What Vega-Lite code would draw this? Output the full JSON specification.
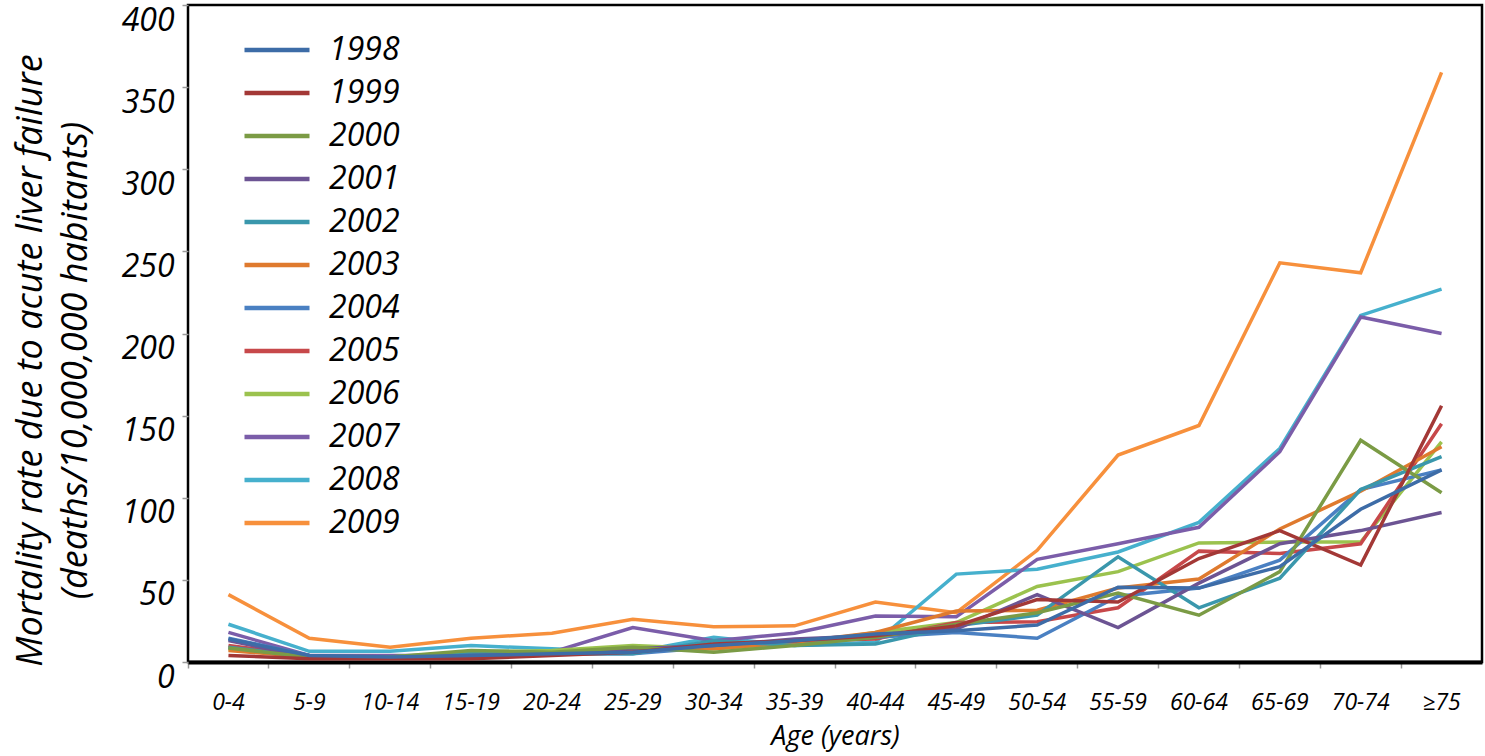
{
  "$schema": "https://vega.github.io/schema/vega-lite/v6.json",
  "autosize": "none",
  "padding": {"left": 188, "top": 5, "right": 3, "bottom": 94},
  "width": 1294,
  "height": 657,
  "background": "white",
  "config": {
    "font": "Open Sans",
    "view": {"stroke": "#000", "strokeWidth": 2.5}
  },
  "data": {"values": [
    {"year":"2009","age":"0-4","rate":41},{"year":"2009","age":"5-9","rate":14.5},{"year":"2009","age":"10-14","rate":9},{"year":"2009","age":"15-19","rate":14.5},{"year":"2009","age":"20-24","rate":17.5},{"year":"2009","age":"25-29","rate":26},{"year":"2009","age":"30-34","rate":21.5},{"year":"2009","age":"35-39","rate":22},{"year":"2009","age":"40-44","rate":36.5},{"year":"2009","age":"45-49","rate":30},{"year":"2009","age":"50-54","rate":68},{"year":"2009","age":"55-59","rate":126},{"year":"2009","age":"60-64","rate":144},{"year":"2009","age":"65-69","rate":243},{"year":"2009","age":"70-74","rate":237},{"year":"2009","age":"≥75","rate":359},
    {"year":"2008","age":"0-4","rate":23},{"year":"2008","age":"5-9","rate":6.5},{"year":"2008","age":"10-14","rate":6.5},{"year":"2008","age":"15-19","rate":10},{"year":"2008","age":"20-24","rate":8},{"year":"2008","age":"25-29","rate":6},{"year":"2008","age":"30-34","rate":15},{"year":"2008","age":"35-39","rate":10},{"year":"2008","age":"40-44","rate":12},{"year":"2008","age":"45-49","rate":53.5},{"year":"2008","age":"50-54","rate":56.5},{"year":"2008","age":"55-59","rate":67},{"year":"2008","age":"60-64","rate":85},{"year":"2008","age":"65-69","rate":130},{"year":"2008","age":"70-74","rate":211},{"year":"2008","age":"≥75","rate":227},
    {"year":"2007","age":"0-4","rate":18},{"year":"2007","age":"5-9","rate":4},{"year":"2007","age":"10-14","rate":4},{"year":"2007","age":"15-19","rate":4},{"year":"2007","age":"20-24","rate":6},{"year":"2007","age":"25-29","rate":21},{"year":"2007","age":"30-34","rate":13},{"year":"2007","age":"35-39","rate":17.5},{"year":"2007","age":"40-44","rate":28},{"year":"2007","age":"45-49","rate":27.5},{"year":"2007","age":"50-54","rate":62.5},{"year":"2007","age":"55-59","rate":72},{"year":"2007","age":"60-64","rate":82},{"year":"2007","age":"65-69","rate":128},{"year":"2007","age":"70-74","rate":210},{"year":"2007","age":"≥75","rate":200},
    {"year":"2006","age":"0-4","rate":8},{"year":"2006","age":"5-9","rate":3},{"year":"2006","age":"10-14","rate":3},{"year":"2006","age":"15-19","rate":6},{"year":"2006","age":"20-24","rate":7},{"year":"2006","age":"25-29","rate":10},{"year":"2006","age":"30-34","rate":8},{"year":"2006","age":"35-39","rate":11},{"year":"2006","age":"40-44","rate":18},{"year":"2006","age":"45-49","rate":24},{"year":"2006","age":"50-54","rate":46},{"year":"2006","age":"55-59","rate":55},{"year":"2006","age":"60-64","rate":72.5},{"year":"2006","age":"65-69","rate":73},{"year":"2006","age":"70-74","rate":73},{"year":"2006","age":"≥75","rate":134},
    {"year":"2005","age":"0-4","rate":10},{"year":"2005","age":"5-9","rate":4},{"year":"2005","age":"10-14","rate":3},{"year":"2005","age":"15-19","rate":3},{"year":"2005","age":"20-24","rate":5},{"year":"2005","age":"25-29","rate":7},{"year":"2005","age":"30-34","rate":10},{"year":"2005","age":"35-39","rate":13},{"year":"2005","age":"40-44","rate":14},{"year":"2005","age":"45-49","rate":24},{"year":"2005","age":"50-54","rate":24.5},{"year":"2005","age":"55-59","rate":33},{"year":"2005","age":"60-64","rate":67.5},{"year":"2005","age":"65-69","rate":66},{"year":"2005","age":"70-74","rate":72},{"year":"2005","age":"≥75","rate":145},
    {"year":"2004","age":"0-4","rate":14.5},{"year":"2004","age":"5-9","rate":4},{"year":"2004","age":"10-14","rate":3},{"year":"2004","age":"15-19","rate":4},{"year":"2004","age":"20-24","rate":5},{"year":"2004","age":"25-29","rate":5},{"year":"2004","age":"30-34","rate":9},{"year":"2004","age":"35-39","rate":12},{"year":"2004","age":"40-44","rate":15},{"year":"2004","age":"45-49","rate":18},{"year":"2004","age":"50-54","rate":14.5},{"year":"2004","age":"55-59","rate":40},{"year":"2004","age":"60-64","rate":45},{"year":"2004","age":"65-69","rate":62},{"year":"2004","age":"70-74","rate":105},{"year":"2004","age":"≥75","rate":117},
    {"year":"2003","age":"0-4","rate":7},{"year":"2003","age":"5-9","rate":3},{"year":"2003","age":"10-14","rate":3},{"year":"2003","age":"15-19","rate":4},{"year":"2003","age":"20-24","rate":5},{"year":"2003","age":"25-29","rate":8},{"year":"2003","age":"30-34","rate":8},{"year":"2003","age":"35-39","rate":12},{"year":"2003","age":"40-44","rate":18},{"year":"2003","age":"45-49","rate":31},{"year":"2003","age":"50-54","rate":31.5},{"year":"2003","age":"55-59","rate":45},{"year":"2003","age":"60-64","rate":50.5},{"year":"2003","age":"65-69","rate":81},{"year":"2003","age":"70-74","rate":104},{"year":"2003","age":"≥75","rate":131},
    {"year":"2002","age":"0-4","rate":9},{"year":"2002","age":"5-9","rate":3},{"year":"2002","age":"10-14","rate":3},{"year":"2002","age":"15-19","rate":5},{"year":"2002","age":"20-24","rate":5},{"year":"2002","age":"25-29","rate":5},{"year":"2002","age":"30-34","rate":13},{"year":"2002","age":"35-39","rate":10},{"year":"2002","age":"40-44","rate":11},{"year":"2002","age":"45-49","rate":22},{"year":"2002","age":"50-54","rate":28.5},{"year":"2002","age":"55-59","rate":64},{"year":"2002","age":"60-64","rate":33},{"year":"2002","age":"65-69","rate":51},{"year":"2002","age":"70-74","rate":105},{"year":"2002","age":"≥75","rate":125},
    {"year":"2001","age":"0-4","rate":13},{"year":"2001","age":"5-9","rate":3},{"year":"2001","age":"10-14","rate":3},{"year":"2001","age":"15-19","rate":4},{"year":"2001","age":"20-24","rate":5},{"year":"2001","age":"25-29","rate":8},{"year":"2001","age":"30-34","rate":10},{"year":"2001","age":"35-39","rate":14},{"year":"2001","age":"40-44","rate":16},{"year":"2001","age":"45-49","rate":20},{"year":"2001","age":"50-54","rate":41},{"year":"2001","age":"55-59","rate":21},{"year":"2001","age":"60-64","rate":48},{"year":"2001","age":"65-69","rate":72},{"year":"2001","age":"70-74","rate":80},{"year":"2001","age":"≥75","rate":91},
    {"year":"2000","age":"0-4","rate":8.5},{"year":"2000","age":"5-9","rate":3},{"year":"2000","age":"10-14","rate":3},{"year":"2000","age":"15-19","rate":7},{"year":"2000","age":"20-24","rate":6},{"year":"2000","age":"25-29","rate":9},{"year":"2000","age":"30-34","rate":6},{"year":"2000","age":"35-39","rate":10},{"year":"2000","age":"40-44","rate":15},{"year":"2000","age":"45-49","rate":23},{"year":"2000","age":"50-54","rate":30},{"year":"2000","age":"55-59","rate":42},{"year":"2000","age":"60-64","rate":28.5},{"year":"2000","age":"65-69","rate":55},{"year":"2000","age":"70-74","rate":135},{"year":"2000","age":"≥75","rate":103},
    {"year":"1999","age":"0-4","rate":4},{"year":"1999","age":"5-9","rate":2},{"year":"1999","age":"10-14","rate":2},{"year":"1999","age":"15-19","rate":2},{"year":"1999","age":"20-24","rate":4},{"year":"1999","age":"25-29","rate":6},{"year":"1999","age":"30-34","rate":11},{"year":"1999","age":"35-39","rate":13},{"year":"1999","age":"40-44","rate":16},{"year":"1999","age":"45-49","rate":22},{"year":"1999","age":"50-54","rate":38},{"year":"1999","age":"55-59","rate":36.5},{"year":"1999","age":"60-64","rate":63},{"year":"1999","age":"65-69","rate":80},{"year":"1999","age":"70-74","rate":59},{"year":"1999","age":"≥75","rate":156},
    {"year":"1998","age":"0-4","rate":14},{"year":"1998","age":"5-9","rate":4},{"year":"1998","age":"10-14","rate":3},{"year":"1998","age":"15-19","rate":4},{"year":"1998","age":"20-24","rate":5},{"year":"1998","age":"25-29","rate":6},{"year":"1998","age":"30-34","rate":10},{"year":"1998","age":"35-39","rate":13},{"year":"1998","age":"40-44","rate":17},{"year":"1998","age":"45-49","rate":19},{"year":"1998","age":"50-54","rate":22.5},{"year":"1998","age":"55-59","rate":45.5},{"year":"1998","age":"60-64","rate":45},{"year":"1998","age":"65-69","rate":58},{"year":"1998","age":"70-74","rate":93},{"year":"1998","age":"≥75","rate":117}
  ]},
  "mark": {"type": "line", "strokeWidth": 3.5, "strokeJoin": "miter", "clip": false},
  "encoding": {
    "x": {
      "field": "age", "type": "ordinal",
      "sort": ["0-4","5-9","10-14","15-19","20-24","25-29","30-34","35-39","40-44","45-49","50-54","55-59","60-64","65-69","70-74","≥75"],
      "scale": {"type": "band", "paddingInner": 0, "paddingOuter": 0},
      "axis": {
        "title": "Age (years)",
        "bandPosition": 0,
        "labelAngle": 0,
        "labelFont": "Open Sans", "labelFontStyle": "italic", "labelFontSize": 23, "labelColor": "#000",
        "labelPadding": 23,
        "tickColor": "#999", "tickSize": 6, "tickWidth": 1.5,
        "domainColor": "#000", "domainWidth": 4,
        "titleFont": "Open Sans", "titleFontStyle": "italic", "titleFontWeight": "normal", "titleFontSize": 27, "titleColor": "#000",
        "titlePadding": 9
      }
    },
    "y": {
      "field": "rate", "type": "quantitative",
      "scale": {"domain": [0, 400], "nice": false},
      "axis": {
        "title": ["Mortality rate due to acute liver failure", "(deaths/10,000,000 habitants)"],
        "values": [0,50,100,150,200,250,300,350,400],
        "grid": false,
        "domain": false,
        "labelFont": "Open Sans", "labelFontStyle": "italic", "labelFontSize": 32, "labelColor": "#000",
        "labelPadding": 8,
        "labelOffset": 15,
        "tickColor": "#999", "tickSize": 6, "tickWidth": 1.5,
        "titleFont": "Open Sans", "titleFontStyle": "italic", "titleFontWeight": "normal", "titleFontSize": 36, "titleColor": "#000",
        "titlePadding": 27,
        "titleLineHeight": 45,
        "titleY": 355
      }
    },
    "color": {
      "field": "year", "type": "nominal",
      "scale": {
        "domain": ["1998","1999","2000","2001","2002","2003","2004","2005","2006","2007","2008","2009"],
        "range": ["#3D6CA7","#A33836","#7B9B45","#6C5493","#3A97AC","#DF7A2E","#4A80C2","#C7484A","#9BC24E","#7B5DA9","#46B0CD","#F7903C"]
      },
      "legend": {
        "title": null,
        "orient": "none",
        "legendX": 73,
        "legendY": 29,
        "padding": 0,
        "symbolType": "M-5,0H5",
        "symbolSize": 169,
        "symbolStrokeWidth": 4.5,
        "labelOffset": 36,
        "labelFont": "Open Sans", "labelFontStyle": "italic", "labelFontSize": 32, "labelColor": "#000",
        "rowPadding": 11,
        "labelLimit": 300
      }
    }
  }
}
